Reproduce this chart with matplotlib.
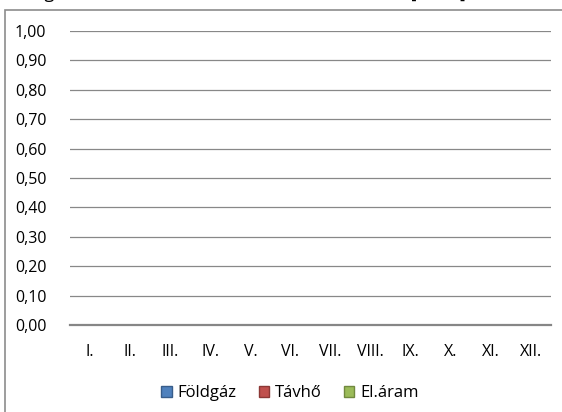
import matplotlib
matplotlib.use("Agg")
import matplotlib.pyplot as plt
from matplotlib.patches import Rectangle, Patch
import numpy as np

plt.rcParams['font.family'] = ['Open Sans', 'DejaVu Sans']

months = ["I.", "II.", "III.", "IV.", "V.", "VI.", "VII.", "VIII.", "IX.", "X.", "XI.", "XII."]
foldgaz = [0, 0, 0, 0, 0, 0, 0, 0, 0, 0, 0, 0]
tavho = [0, 0, 0, 0, 0, 0, 0, 0, 0, 0, 0, 0]
elaram = [0, 0, 0, 0, 0, 0, 0, 0, 0, 0, 0, 0]
series_names = ["Földgáz", "Távhő", "El.áram"]
yticks = [0.0, 0.1, 0.2, 0.3, 0.4, 0.5, 0.6, 0.7, 0.8, 0.9, 1.0]
title = "Energiafelhasználás alakulása havonta az évben [MWh]"

colors = ["#4F81BD", "#C0504D", "#9BBB59"]
edges = ["#385D8A", "#8C3836", "#71893F"]

W, H = 562, 412
fig = plt.figure(figsize=(W / 100, H / 100), dpi=100)
ax = fig.add_axes([70 / W, 1 - 325 / H, (551 - 70) / W, (325 - 31) / H])

x = np.arange(len(months))
bw = 0.25
for i, vals in enumerate([foldgaz, tavho, elaram]):
    ax.bar(x + (i - 1) * bw, vals, width=bw, color=colors[i], edgecolor=edges[i],
           linewidth=0, label=series_names[i])

ax.set_xlim(-0.5, len(months) - 0.5)
ax.set_ylim(0, 1.0)
ax.set_yticks(yticks)
ax.set_yticklabels([f"{v:.2f}".replace(".", ",") for v in yticks], fontsize=11.5, color="#000000")
ax.set_xticks(x)
ax.set_xticklabels(months, fontsize=11.5, color="#000000")
ax.tick_params(axis='both', length=0)
ax.tick_params(axis='y', pad=17)
ax.tick_params(axis='x', pad=14)
ax.grid(axis='y', color="#888888", linewidth=0.9)
ax.set_axisbelow(True)
for s in ["left", "right", "top"]:
    ax.spines[s].set_visible(False)
ax.spines["bottom"].set_color("#868686")
ax.spines["bottom"].set_linewidth(1.6)

# outer chart border (cropped)
fig.patches.append(Rectangle((5 / W, -0.1), 1.2, 1 - 10 / H + 0.1, transform=fig.transFigure,
                             fill=False, edgecolor="#8C8C8C", linewidth=1.2))

# title (cropped off at top, as in the reference)
fig.text(6 / W, 1 + 1.5 / H, title, fontsize=13, va='baseline', ha='left', color="#000000")

handles = [Patch(facecolor=colors[i], edgecolor=edges[i], label=series_names[i]) for i in range(3)]
fig.legend(handles=handles, loc='center', bbox_to_anchor=(290 / W, 1 - 393 / H), ncol=3,
           frameon=False, fontsize=12, handlelength=0.65, handleheight=0.65,
           handletextpad=0.35, columnspacing=1.3)

fig.savefig("out.png", dpi=100)
